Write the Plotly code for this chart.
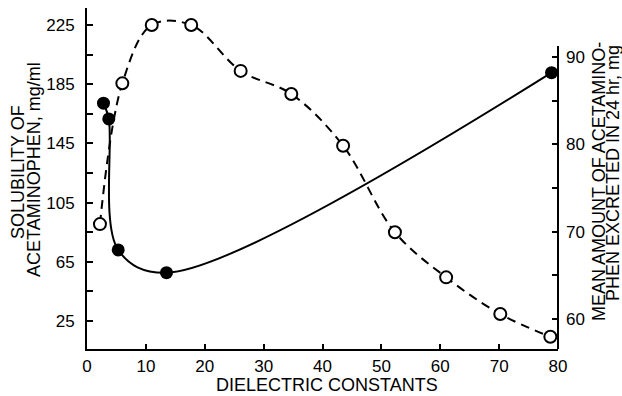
import plotly.graph_objects as go

# Open circles, dashed curve (left axis: solubility, mg/ml)
open_x = [2.2, 6.0, 11.0, 17.7, 26.1, 34.7, 43.5, 52.3, 61.0, 70.2, 78.7]
open_y = [90.5, 185.6, 225.0, 225.0, 194.0, 178.4, 143.4, 85.0, 54.5, 29.7, 14.4]

# Filled circles, solid curve (right axis: mean amount excreted, mg)
fill_x = [2.8, 3.7, 5.3, 13.5, 78.9]
fill_y = [84.7, 82.9, 67.9, 65.3, 88.2]

x_ticks = [0, 10, 20, 30, 40, 50, 60, 70, 80]
left_ticks = [25, 65, 105, 145, 185, 225]
left_minor = [45, 85, 125, 165, 205]
right_ticks = [60, 70, 80, 90]
right_minor = [65, 75, 85]

TICKFONT = dict(family="Liberation Sans, Arial, Helvetica", size=17, color="black")
TITLEFONT = dict(family="Liberation Sans, Arial, Helvetica", size=18, color="black")

fig = go.Figure()
fig.add_trace(go.Scatter(
    x=open_x, y=open_y, mode="lines+markers", yaxis="y",
    line=dict(color="black", width=2, dash="9px,6px", shape="spline", smoothing=1),
    marker=dict(symbol="circle", size=12, color="white", line=dict(color="black", width=2)),
    cliponaxis=False, showlegend=False,
))
fig.add_trace(go.Scatter(
    x=fill_x, y=fill_y, mode="lines+markers", yaxis="y2",
    line=dict(color="black", width=2, shape="spline", smoothing=1.0),
    marker=dict(symbol="circle", size=13, color="black"),
    cliponaxis=False, showlegend=False,
))

L, R, T, B = 87, 64, 8, 47
W, H = 622, 396
pw, ph = W - L - R, H - T - B

def px(xp):
    return (xp - L) / pw

def py(yp):
    return (H - B - yp) / ph

fig.update_layout(
    width=W, height=H,
    margin=dict(l=L, r=R, t=T, b=B),
    paper_bgcolor="white", plot_bgcolor="white",
    xaxis=dict(range=[0, 80], tickvals=x_ticks, ticks="inside", ticklen=5, tickwidth=2,
               showline=True, linewidth=2, linecolor="black", showgrid=False, zeroline=False,
               tickfont=TICKFONT, tickcolor="black", ticklabelstandoff=1),
    yaxis=dict(range=[6.1, 236.5], tickvals=left_ticks, ticks="inside", ticklen=6, tickwidth=2,
               minor=dict(tickvals=left_minor, ticks="inside", ticklen=6, tickwidth=2, tickcolor="black"),
               showline=True, linewidth=2, linecolor="black", showgrid=False, zeroline=False,
               tickfont=TICKFONT, tickcolor="black", ticklabelstandoff=7),
    yaxis2=dict(range=[56.56, 95.6], overlaying="y", side="right", tickvals=right_ticks,
                ticks="inside", ticklen=6, tickwidth=2,
                minor=dict(tickvals=right_minor, ticks="inside", ticklen=6, tickwidth=2, tickcolor="black"),
                showline=False, showgrid=False, zeroline=False,
                tickfont=TICKFONT, tickcolor="black", ticklabelstandoff=7),
    shapes=[dict(type="line", xref="paper", yref="paper", x0=1, x1=1, y0=0, y1=py(46),
                 line=dict(color="black", width=2), layer="above")],
    annotations=[
        dict(text="DIELECTRIC CONSTANTS", xref="paper", yref="paper", x=px(327), y=py(385),
             xanchor="center", yanchor="middle", showarrow=False, font=TITLEFONT),
        dict(text="SOLUBILITY OF", xref="paper", yref="paper", x=px(18), y=py(172),
             xanchor="center", yanchor="middle", showarrow=False, textangle=-90, font=TITLEFONT),
        dict(text="ACETAMINOPHEN, mg/ml", xref="paper", yref="paper", x=px(34), y=py(170),
             xanchor="center", yanchor="middle", showarrow=False, textangle=-90, font=TITLEFONT),
        dict(text="MEAN AMOUNT OF ACETAMINO-", xref="paper", yref="paper", x=px(599), y=py(182),
             xanchor="center", yanchor="middle", showarrow=False, textangle=-90, font=TITLEFONT),
        dict(text="PHEN EXCRETED IN 24 hr, mg", xref="paper", yref="paper", x=px(613), y=py(173),
             xanchor="center", yanchor="middle", showarrow=False, textangle=-90, font=TITLEFONT),
    ],
)

fig.write_html("out.html")
